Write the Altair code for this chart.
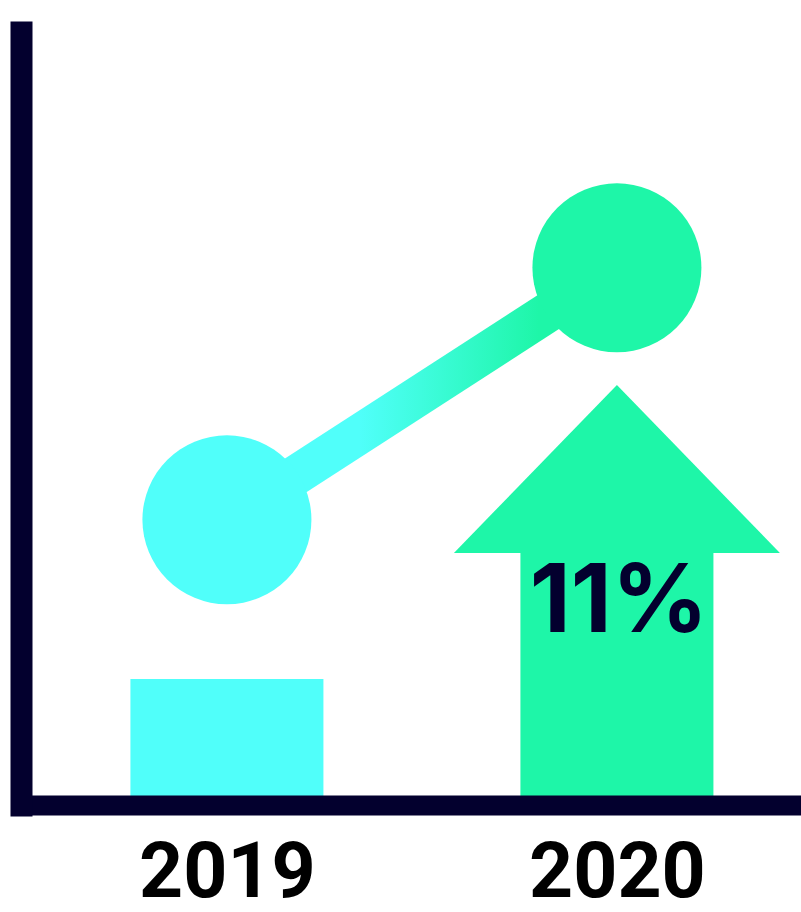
import altair as alt
import pandas as pd

# ---- data ----
years = [2019, 2020]
bar_values = [16.3, 32.6]      # bar / arrow-shaft heights
point_values = [36.9, 69.5]    # circle markers
change_label = ["11%"]
label_value = [22.4]

CYAN = "#50FFFA"
GREEN = "#1EF6A8"
NAVY = "#03002E"
series_colors = [CYAN, GREEN]

bars_df = pd.DataFrame({"year": years, "value": bar_values, "color": series_colors})
points_df = pd.DataFrame({"year": years, "value": point_values, "color": series_colors})
arrow_df = pd.DataFrame({"year": years[1:], "value": bar_values[1:]})
text_df = pd.DataFrame({"year": years[1:], "value": label_value, "label": change_label})

x_scale = alt.Scale(domain=[2018.472, 2020.472], nice=False, zero=False, padding=0)
y_scale = alt.Scale(domain=[0, 100], nice=False, padding=0)

x_enc = alt.X(
    "year:Q",
    scale=x_scale,
    axis=alt.Axis(
        values=years, format="d", title=None, ticks=False, tickSize=0, grid=False,
        labelFontSize=77, labelFont="Roboto", labelFontWeight="bold", labelColor="#000000",
        labelPadding=107, labelBaseline="bottom", labelFlush=False, labelLimit=0,
        labelOverlap=False,
        domainColor=NAVY, domainWidth=20, domainCap="square", zindex=1,
    ),
)
y_enc = alt.Y(
    "value:Q",
    scale=y_scale,
    axis=alt.Axis(
        labels=False, ticks=False, title=None, grid=False,
        domainColor=NAVY, domainWidth=22, domainCap="square", zindex=1,
    ),
)

bars = alt.Chart(bars_df).mark_bar(size=193).encode(
    x=x_enc, y=y_enc, color=alt.Color("color:N", scale=None)
)

line = alt.Chart(points_df).mark_line(
    strokeWidth=40,
    strokeCap="butt",
    stroke=alt.LinearGradient(
        gradient="linear",
        stops=[
            alt.GradientStop(offset=0, color=CYAN),
            alt.GradientStop(offset=0.34, color=CYAN),
            alt.GradientStop(offset=0.8, color=GREEN),
            alt.GradientStop(offset=1, color=GREEN),
        ],
        x1=0, x2=1, y1=0, y2=0,
    ),
).encode(x=x_enc, y=y_enc)

circles = alt.Chart(points_df).mark_circle(size=28561, opacity=1).encode(
    x=x_enc, y=y_enc, color=alt.Color("color:N", scale=None)
)

arrow_head = alt.Chart(arrow_df).mark_point(
    shape="M-1,0L1,0L0,-1.031Z", size=106276, filled=True, fill=GREEN,
    opacity=1, strokeWidth=0,
).encode(x=x_enc, y=y_enc)

text = alt.Chart(text_df).mark_text(
    font="Inter", fontSize=95, fontWeight="bold", color=NAVY,
    baseline="alphabetic", align="center", dx=2,
).encode(x=x_enc, y=y_enc, text="label:N")

chart = (
    alt.layer(bars, line, circles, arrow_head, text)
    .properties(
        width=780, height=773,
        padding={"left": 21, "top": 32, "right": 0, "bottom": 107},
        autosize=alt.AutoSizeParams(type="none"),
        background="white",
    )
    .configure_view(stroke=None)
)

chart.save("out.html", embed_options={"renderer": "svg", "actions": False})
